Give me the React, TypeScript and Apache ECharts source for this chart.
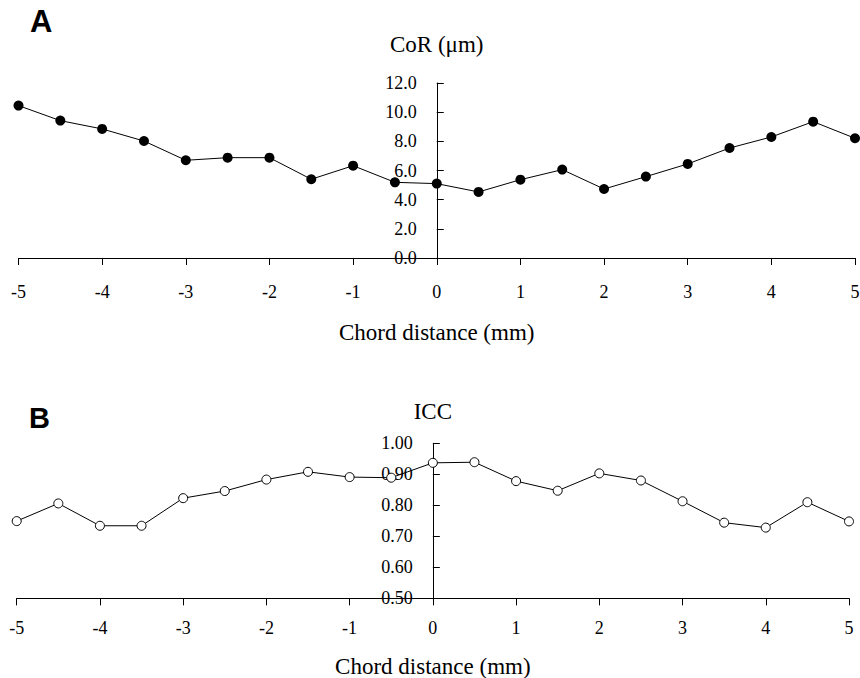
import React, { useEffect, useRef } from "react";
import * as echarts from "echarts";

const chordDistances = [-5, -4.5, -4, -3.5, -3, -2.5, -2, -1.5, -1, -0.5, 0, 0.5, 1, 1.5, 2, 2.5, 3, 3.5, 4, 4.5, 5];
const corValues = [10.45, 9.42, 8.85, 8.02, 6.7, 6.88, 6.88, 5.4, 6.33, 5.19, 5.1, 4.53, 5.37, 6.06, 4.73, 5.58, 6.45, 7.54, 8.3, 9.35, 8.21];
const iccValues = [0.749, 0.806, 0.734, 0.734, 0.823, 0.846, 0.883, 0.908, 0.891, 0.889, 0.937, 0.939, 0.878, 0.847, 0.903, 0.88, 0.813, 0.744, 0.728, 0.81, 0.748];

const panelLabels = ["A", "B"];
const yTitles = ["CoR (\u03bcm)", "ICC"];
const xTitle = "Chord distance (mm)";

const SERIF = "'Liberation Serif', 'Times New Roman', serif";

const grids = [
  { left: 18.5, width: 836.5, top: 83, height: 175 },
  { left: 16.7, width: 832.3, top: 443.3, height: 155 },
];

export default function App() {
  const ref = useRef<HTMLDivElement>(null);
  useEffect(() => {
    if (!ref.current) return;
    const chart = echarts.init(ref.current, undefined, { renderer: "svg" });
    const axisLine = { lineStyle: { color: "#000", width: 1 } };
    const tickLabel = { color: "#000", fontFamily: SERIF, fontSize: 18 };
    const nameStyle = { color: "#000", fontFamily: SERIF, fontSize: 23 };
    chart.setOption({
      animation: false,
      backgroundColor: "#fff",
      grid: grids.map((g) => ({ ...g, containLabel: false, outerBoundsMode: "none" })),
      xAxis: [0, 1].map((i) => ({
        type: "value",
        gridIndex: i,
        min: -5,
        max: 5,
        interval: 1,
        axisLine,
        axisTick: { show: true, length: 7, lineStyle: { color: "#000" } },
        axisLabel: { ...tickLabel, margin: i === 0 ? 25 : 21 },
        splitLine: { show: false },
        name: xTitle,
        nameLocation: "middle",
        nameGap: i === 0 ? 63 : 57,
        nameTextStyle: nameStyle,
      })),
      yAxis: [
        {
          type: "value",
          gridIndex: 0,
          min: 0,
          max: 12,
          interval: 2,
          offset: -grids[0].width / 2,
          axisLine: { ...axisLine, show: true, onZero: false },
          axisTick: { show: true, inside: true, length: 7, lineStyle: { color: "#000" } },
          axisLabel: { ...tickLabel, margin: 20, formatter: (v: number) => v.toFixed(1) },
          splitLine: { show: false },
          name: yTitles[0],
          nameLocation: "end",
          nameGap: 27,
          nameTextStyle: nameStyle,
        },
        {
          type: "value",
          gridIndex: 1,
          min: 0.5,
          max: 1.0,
          interval: 0.1,
          offset: -grids[1].width / 2,
          axisLine: { ...axisLine, show: true, onZero: false },
          axisTick: { show: true, inside: true, length: 7, lineStyle: { color: "#000" } },
          axisLabel: { ...tickLabel, margin: 20, formatter: (v: number) => v.toFixed(2) },
          splitLine: { show: false },
          name: yTitles[1],
          nameLocation: "end",
          nameGap: 20,
          nameTextStyle: nameStyle,
        },
      ],
      series: [
        {
          type: "line",
          xAxisIndex: 0,
          yAxisIndex: 0,
          data: chordDistances.map((x, i) => [x, corValues[i]]),
          symbol: "circle",
          symbolSize: 10,
          itemStyle: { color: "#000" },
          lineStyle: { color: "#000", width: 1 },
          z: 3,
        },
        {
          type: "line",
          xAxisIndex: 1,
          yAxisIndex: 1,
          data: chordDistances.map((x, i) => [x, iccValues[i]]),
          symbol: "circle",
          symbolSize: 9,
          itemStyle: { color: "#fff", borderColor: "#000", borderWidth: 1 },
          lineStyle: { color: "#000", width: 1 },
          z: 3,
        },
      ],
      graphic: [
        {
          type: "text",
          left: 30,
          top: 6,
          style: { text: panelLabels[0], font: "bold 31px 'Liberation Sans', Arial, sans-serif", fill: "#000" },
        },
        {
          type: "text",
          left: 29,
          top: 403,
          style: { text: panelLabels[1], font: "bold 29px 'Liberation Sans', Arial, sans-serif", fill: "#000" },
        },
      ],
    });
    return () => chart.dispose();
  }, []);
  return (
    <div
      ref={ref}
      style={{ position: "fixed", left: 0, top: 0, width: 860, height: 678, background: "#fff" }}
    />
  );
}
